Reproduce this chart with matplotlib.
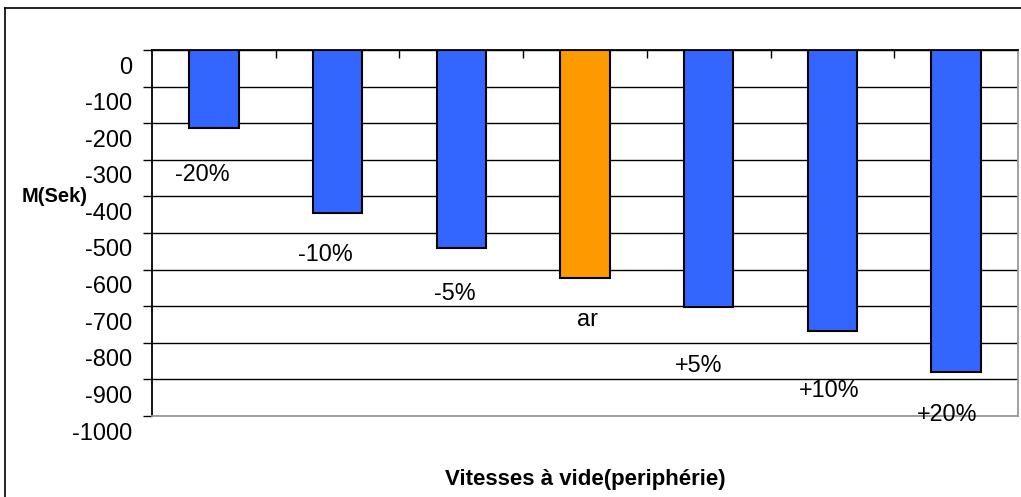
import matplotlib
matplotlib.use("Agg")
import matplotlib.pyplot as plt
import matplotlib.transforms as mtransforms
from matplotlib.lines import Line2D
import numpy as np

plt.rcParams['font.family'] = ['Liberation Sans', 'DejaVu Sans']
plt.rcParams['axes.unicode_minus'] = False

# data
categories = ["-20%", "-10%", "-5%", "ar", "+5%", "+10%", "+20%"]
values = [-214, -444, -542, -624, -701, -767, -881]
bar_colors = ["#3366FF", "#3366FF", "#3366FF", "#FF9900", "#3366FF", "#3366FF", "#3366FF"]

# where excel dropped the data labels (layout, not data)
label_y = [-339, -560, -664, -735, -861, -929, -995]
label_dx = [-0.09, -0.10, -0.05, 0.02, -0.08, -0.03, -0.07]

fig = plt.figure(figsize=(10.21, 4.97), dpi=100)
ax = fig.add_axes([152/1021, 1 - 416/497, (1018 - 152)/1021, (416 - 50)/497])

x = np.arange(len(categories))
ax.bar(x, values, width=0.4, color=bar_colors, edgecolor="black", linewidth=1.5, zorder=3)

for i, lab in enumerate(categories):
    ax.text(x[i] + label_dx[i], label_y[i], lab, ha="center", va="center", fontsize=16.8, zorder=4)

ax.set_xlim(-0.5, len(categories) - 0.5)
ax.set_ylim(-1000, 0)
ax.set_yticks(np.arange(-1000, 1, 100))
ax.yaxis.grid(True, color="black", linewidth=1.0, zorder=0)
ax.set_axisbelow(True)

ax.xaxis.tick_top()
ax.set_xticks(x[:-1] + 0.5)
ax.set_xticklabels([])
ax.tick_params(axis="x", direction="in", length=6, width=1, color="black")
ax.tick_params(axis="y", direction="out", length=6.5, width=1, pad=8, labelsize=17)

# excel puts the value labels a bit under their tick
offset = mtransforms.ScaledTranslation(0, -0.15, fig.dpi_scale_trans)
for lbl in ax.get_yticklabels():
    lbl.set_transform(lbl.get_transform() + offset)

ax.spines["left"].set_color("black")
ax.spines["top"].set_color("black")
ax.spines["bottom"].set_color("#999999")
ax.spines["right"].set_color("#999999")
for s in ax.spines.values():
    s.set_linewidth(1.3)

fig.text(55/1021, 1 - 197/497, "M(Sek)", ha="center", va="center", fontsize=14.5, fontweight="bold")
fig.text(585/1021, 1 - 480/497, "Vitesses à vide(periphérie)", ha="center", va="center",
         fontsize=16, fontweight="bold")

# outer chart frame
fig.add_artist(Line2D([5/1021, 5/1021], [0, 1 - 8/497], transform=fig.transFigure, color="black", linewidth=1.2))
fig.add_artist(Line2D([5/1021, 1], [1 - 8/497, 1 - 8/497], transform=fig.transFigure, color="black", linewidth=1.2))

fig.savefig("out.png", dpi=100)
